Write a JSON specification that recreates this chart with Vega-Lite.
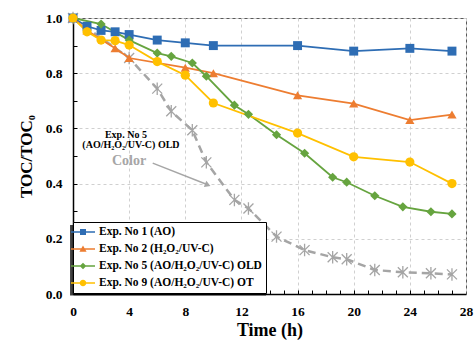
{
  "$schema": "https://vega.github.io/schema/vega-lite/v6.json",
  "width": 393,
  "height": 276,
  "autosize": {"type": "none"},
  "padding": {"left": 73, "top": 18, "right": 9, "bottom": 50},
  "background": "white",
  "config": {
    "font": "Liberation Serif",
    "view": {"stroke": "#595959", "strokeWidth": 1},
    "axis": {"labelFont": "Liberation Serif", "titleFont": "Liberation Serif", "labelFontWeight": "bold", "titleFontWeight": "bold", "labelColor": "black", "titleColor": "black"}
  },
  "datasets": {
    "series": [
      {"series": "Exp. No 1 (AO)", "t": 0, "v": 1.0},
      {"series": "Exp. No 1 (AO)", "t": 1, "v": 0.97},
      {"series": "Exp. No 1 (AO)", "t": 2, "v": 0.955},
      {"series": "Exp. No 1 (AO)", "t": 3, "v": 0.95},
      {"series": "Exp. No 1 (AO)", "t": 4, "v": 0.94},
      {"series": "Exp. No 1 (AO)", "t": 6, "v": 0.92},
      {"series": "Exp. No 1 (AO)", "t": 8, "v": 0.91},
      {"series": "Exp. No 1 (AO)", "t": 10, "v": 0.90},
      {"series": "Exp. No 1 (AO)", "t": 16, "v": 0.90},
      {"series": "Exp. No 1 (AO)", "t": 20, "v": 0.88},
      {"series": "Exp. No 1 (AO)", "t": 24, "v": 0.89},
      {"series": "Exp. No 1 (AO)", "t": 27, "v": 0.88},
      {"series": "Exp. No 2 (H₂O₂/UV-C)", "t": 0, "v": 1.0},
      {"series": "Exp. No 2 (H₂O₂/UV-C)", "t": 1, "v": 0.955},
      {"series": "Exp. No 2 (H₂O₂/UV-C)", "t": 3, "v": 0.89},
      {"series": "Exp. No 2 (H₂O₂/UV-C)", "t": 4, "v": 0.855},
      {"series": "Exp. No 2 (H₂O₂/UV-C)", "t": 8, "v": 0.82},
      {"series": "Exp. No 2 (H₂O₂/UV-C)", "t": 10, "v": 0.80},
      {"series": "Exp. No 2 (H₂O₂/UV-C)", "t": 16, "v": 0.72},
      {"series": "Exp. No 2 (H₂O₂/UV-C)", "t": 20, "v": 0.69},
      {"series": "Exp. No 2 (H₂O₂/UV-C)", "t": 24, "v": 0.63},
      {"series": "Exp. No 2 (H₂O₂/UV-C)", "t": 27, "v": 0.65},
      {"series": "Exp. No 5 (AO/H₂O₂/UV-C) OLD", "t": 0, "v": 1.0},
      {"series": "Exp. No 5 (AO/H₂O₂/UV-C) OLD", "t": 2, "v": 0.978},
      {"series": "Exp. No 5 (AO/H₂O₂/UV-C) OLD", "t": 4, "v": 0.92},
      {"series": "Exp. No 5 (AO/H₂O₂/UV-C) OLD", "t": 6, "v": 0.873},
      {"series": "Exp. No 5 (AO/H₂O₂/UV-C) OLD", "t": 7, "v": 0.861},
      {"series": "Exp. No 5 (AO/H₂O₂/UV-C) OLD", "t": 8.5, "v": 0.837},
      {"series": "Exp. No 5 (AO/H₂O₂/UV-C) OLD", "t": 9.5, "v": 0.789},
      {"series": "Exp. No 5 (AO/H₂O₂/UV-C) OLD", "t": 11.5, "v": 0.684},
      {"series": "Exp. No 5 (AO/H₂O₂/UV-C) OLD", "t": 12.5, "v": 0.651},
      {"series": "Exp. No 5 (AO/H₂O₂/UV-C) OLD", "t": 14.5, "v": 0.577},
      {"series": "Exp. No 5 (AO/H₂O₂/UV-C) OLD", "t": 16.5, "v": 0.51},
      {"series": "Exp. No 5 (AO/H₂O₂/UV-C) OLD", "t": 18.5, "v": 0.423},
      {"series": "Exp. No 5 (AO/H₂O₂/UV-C) OLD", "t": 19.5, "v": 0.405},
      {"series": "Exp. No 5 (AO/H₂O₂/UV-C) OLD", "t": 21.5, "v": 0.356},
      {"series": "Exp. No 5 (AO/H₂O₂/UV-C) OLD", "t": 23.5, "v": 0.316},
      {"series": "Exp. No 5 (AO/H₂O₂/UV-C) OLD", "t": 25.5, "v": 0.298},
      {"series": "Exp. No 5 (AO/H₂O₂/UV-C) OLD", "t": 27, "v": 0.29},
      {"series": "Exp. No 9 (AO/H₂O₂/UV-C) OT", "t": 0, "v": 1.0},
      {"series": "Exp. No 9 (AO/H₂O₂/UV-C) OT", "t": 1, "v": 0.95},
      {"series": "Exp. No 9 (AO/H₂O₂/UV-C) OT", "t": 2, "v": 0.92},
      {"series": "Exp. No 9 (AO/H₂O₂/UV-C) OT", "t": 3, "v": 0.918},
      {"series": "Exp. No 9 (AO/H₂O₂/UV-C) OT", "t": 4, "v": 0.902},
      {"series": "Exp. No 9 (AO/H₂O₂/UV-C) OT", "t": 6, "v": 0.842},
      {"series": "Exp. No 9 (AO/H₂O₂/UV-C) OT", "t": 8, "v": 0.793},
      {"series": "Exp. No 9 (AO/H₂O₂/UV-C) OT", "t": 10, "v": 0.692},
      {"series": "Exp. No 9 (AO/H₂O₂/UV-C) OT", "t": 16, "v": 0.583},
      {"series": "Exp. No 9 (AO/H₂O₂/UV-C) OT", "t": 20, "v": 0.497},
      {"series": "Exp. No 9 (AO/H₂O₂/UV-C) OT", "t": 24, "v": 0.478},
      {"series": "Exp. No 9 (AO/H₂O₂/UV-C) OT", "t": 27, "v": 0.40}
    ],
    "color": [
      {"t": 0, "v": 1.0},
      {"t": 4, "v": 0.855},
      {"t": 6, "v": 0.744},
      {"t": 7, "v": 0.662},
      {"t": 8.5, "v": 0.593},
      {"t": 9.5, "v": 0.477},
      {"t": 11.5, "v": 0.341},
      {"t": 12.5, "v": 0.31},
      {"t": 14.5, "v": 0.208},
      {"t": 16.5, "v": 0.159},
      {"t": 18.5, "v": 0.133},
      {"t": 19.5, "v": 0.126},
      {"t": 21.5, "v": 0.087},
      {"t": 23.5, "v": 0.079},
      {"t": 25.5, "v": 0.075},
      {"t": 27, "v": 0.071}
    ],
    "notes": [
      {"label": "Exp. No 5", "t": 3.77, "v": 0.576},
      {"label": "(AO/H₂O₂/UV-C) OLD", "t": 4.13, "v": 0.54}
    ],
    "one": [{"k": 1}]
  },
  "resolve": {"axis": {"x": "independent", "y": "independent"}},
  "layer": [
    {
      "data": {"name": "color"},
      "encoding": {
        "x": {"field": "t", "type": "quantitative", "scale": {"domain": [0, 28], "nice": false, "zero": false}, "axis": null},
        "y": {"field": "v", "type": "quantitative", "scale": {"domain": [0, 1], "nice": false}, "axis": null}
      },
      "layer": [
        {"mark": {"type": "line", "color": "#A5A5A5", "strokeWidth": 2.5, "strokeDash": [8, 5]}},
        {"mark": {"type": "point", "shape": "M-1,-1L1,1M-1,1L1,-1M0,-1.25L0,1.25", "filled": false, "stroke": "#A5A5A5", "strokeWidth": 1.3, "size": 100, "opacity": 1}}
      ]
    },
    {
      "data": {"name": "series"},
      "encoding": {
        "x": {"field": "t", "type": "quantitative", "scale": {"domain": [0, 28], "nice": false, "zero": false},
          "axis": {"orient": "bottom", "title": "Time (h)", "titleFontSize": 18, "titlePadding": 4, "labelFontSize": 13.5, "labelPadding": 10, "values": [0, 4, 8, 12, 16, 20, 24, 28], "ticks": false, "domainColor": "black", "domainWidth": 1.5, "grid": true, "gridDash": [3, 3], "gridColor": "#D0D0D0", "labelFlush": false}},
        "y": {"field": "v", "type": "quantitative", "scale": {"domain": [0, 1], "nice": false},
          "axis": {"orient": "left", "title": "TOC/TOC₀", "titleFontSize": 17, "titlePadding": 10, "labelFontSize": 13.5, "labelPadding": 11, "values": [0, 0.2, 0.4, 0.6, 0.8, 1.0], "format": ".1f", "ticks": false, "domainColor": "black", "domainWidth": 1.5, "grid": true, "gridDash": [3, 3], "gridColor": "#D0D0D0", "labelFlush": false}}
      },
      "layer": [
        {"transform": [{"filter": "datum.series === 'Exp. No 1 (AO)'"}], "mark": {"type": "line", "strokeWidth": 1.8, "color": "#2E6DB4"}},
        {"transform": [{"filter": "datum.series === 'Exp. No 2 (H₂O₂/UV-C)'"}], "mark": {"type": "line", "strokeWidth": 1.8, "color": "#ED7D31"}},
        {"transform": [{"filter": "datum.series === 'Exp. No 5 (AO/H₂O₂/UV-C) OLD'"}], "mark": {"type": "line", "strokeWidth": 1.8, "color": "#66A43F"}},
        {"transform": [{"filter": "datum.series === 'Exp. No 9 (AO/H₂O₂/UV-C) OT'"}], "mark": {"type": "line", "strokeWidth": 1.8, "color": "#FFC000"}},
        {"transform": [{"filter": "datum.series === 'Exp. No 1 (AO)'"}], "mark": {"type": "point", "shape": "square", "filled": true, "opacity": 1, "size": 80, "color": "#2E6DB4"}},
        {"transform": [{"filter": "datum.series === 'Exp. No 2 (H₂O₂/UV-C)'"}], "mark": {"type": "point", "shape": "triangle-up", "filled": true, "opacity": 1, "size": 85, "color": "#ED7D31"}},
        {"transform": [{"filter": "datum.series === 'Exp. No 5 (AO/H₂O₂/UV-C) OLD'"}], "mark": {"type": "point", "shape": "diamond", "filled": true, "opacity": 1, "size": 85, "color": "#66A43F"}},
        {"transform": [{"filter": "datum.series === 'Exp. No 9 (AO/H₂O₂/UV-C) OT'"}], "mark": {"type": "point", "shape": "circle", "filled": true, "opacity": 1, "size": 85, "color": "#FFC000"}}
      ]
    },
    {
      "data": {"name": "series"},
      "mark": {"type": "point", "filled": true, "opacity": 0},
      "encoding": {
        "x": {"field": "t", "type": "quantitative", "axis": null},
        "y": {"field": "v", "type": "quantitative", "axis": null},
        "color": {
          "field": "series", "type": "nominal",
          "scale": {"domain": ["Exp. No 1 (AO)", "Exp. No 2 (H₂O₂/UV-C)", "Exp. No 5 (AO/H₂O₂/UV-C) OLD", "Exp. No 9 (AO/H₂O₂/UV-C) OT"], "range": ["#2E6DB4", "#ED7D31", "#66A43F", "#FFC000"]},
          "legend": {
            "title": null, "orient": "none", "legendX": 0, "legendY": 204,
            "strokeColor": "black", "fillColor": "white", "padding": 4,
            "labelFont": "Liberation Serif", "labelFontWeight": "bold", "labelFontSize": 11.5, "labelColor": "black", "labelLimit": 300,
            "symbolSize": 144, "symbolOpacity": 1, "symbolStrokeWidth": 0, "labelOffset": 10, "rowPadding": 5
          }
        },
        "shape": {
          "field": "series", "type": "nominal",
          "scale": {"domain": ["Exp. No 1 (AO)", "Exp. No 2 (H₂O₂/UV-C)", "Exp. No 5 (AO/H₂O₂/UV-C) OLD", "Exp. No 9 (AO/H₂O₂/UV-C) OT"], "range": ["M-2,-0.12H2V0.12H-2ZM-0.5,-0.5H0.5V0.5H-0.5Z", "M-2,-0.12H2V0.12H-2ZM0,-0.6L0.6,0.45H-0.6Z", "M-2,-0.12H2V0.12H-2ZM0,-0.55L0.55,0L0,0.55L-0.55,0Z", "M-2,-0.12H2V0.12H-2ZM-0.55,0A0.55,0.55 0 1,1 0.55,0A0.55,0.55 0 1,1 -0.55,0Z"]},
          "legend": {
            "title": null, "orient": "none", "legendX": 0, "legendY": 204,
            "strokeColor": "black", "fillColor": "white", "padding": 4,
            "labelFont": "Liberation Serif", "labelFontWeight": "bold", "labelFontSize": 11.5, "labelColor": "black", "labelLimit": 300,
            "symbolSize": 144, "symbolOpacity": 1, "symbolStrokeWidth": 0, "labelOffset": 10, "rowPadding": 5
          }
        }
      }
    },
    {
      "data": {"name": "one"},
      "mark": {"type": "rect", "color": "black", "opacity": 0.75},
      "encoding": {
        "x": {"datum": -0.21, "type": "quantitative", "axis": null},
        "x2": {"datum": 13.75},
        "y": {"datum": 0.25, "type": "quantitative", "axis": null},
        "y2": {"datum": -0.005}
      }
    },
    {
      "data": {"name": "notes"},
      "mark": {"type": "text", "font": "Liberation Serif", "fontWeight": "bold", "fontSize": 10, "color": "black", "align": "center", "baseline": "middle"},
      "encoding": {
        "x": {"field": "t", "type": "quantitative", "axis": null},
        "y": {"field": "v", "type": "quantitative", "axis": null},
        "text": {"field": "label"}
      }
    },
    {
      "data": {"name": "one"},
      "mark": {"type": "text", "font": "Liberation Serif", "fontWeight": "bold", "fontSize": 14, "color": "#A6A6A6", "align": "center", "baseline": "middle", "text": "Color"},
      "encoding": {
        "x": {"datum": 3.99, "type": "quantitative", "axis": null},
        "y": {"datum": 0.483, "type": "quantitative", "axis": null}
      }
    },
    {
      "data": {"name": "one"},
      "mark": {"type": "rule", "color": "#A6A6A6", "strokeWidth": 1.5},
      "encoding": {
        "x": {"datum": 5.68, "type": "quantitative", "axis": null},
        "x2": {"datum": 9.55},
        "y": {"datum": 0.474, "type": "quantitative", "axis": null},
        "y2": {"datum": 0.397}
      }
    },
    {
      "data": {"name": "one"},
      "mark": {"type": "point", "shape": "triangle-right", "filled": true, "color": "#A6A6A6", "size": 45, "angle": 22, "opacity": 1},
      "encoding": {
        "x": {"datum": 9.6, "type": "quantitative", "axis": null},
        "y": {"datum": 0.395, "type": "quantitative", "axis": null}
      }
    },
    {
      "data": {"name": "one"},
      "mark": {"type": "point", "opacity": 0},
      "encoding": {
        "x": {"datum": 0, "type": "quantitative", "axis": {"orient": "bottom", "title": null, "labels": false, "domain": false, "grid": false, "ticks": true, "tickSize": 4, "offset": -4, "tickColor": "black", "tickWidth": 1, "values": [1, 2, 3, 4, 5, 6, 7, 8, 9, 10, 11, 12, 13, 14, 15, 16, 17, 18, 19, 20, 21, 22, 23, 24, 25, 26, 27]}},
        "y": {"datum": 0, "type": "quantitative", "axis": {"orient": "left", "title": null, "labels": false, "domain": false, "grid": false, "ticks": true, "tickSize": 4, "offset": -4, "tickColor": "black", "tickWidth": 1, "values": [0.1, 0.2, 0.3, 0.4, 0.5, 0.6, 0.7, 0.8, 0.9]}}
      }
    }
  ]
}
